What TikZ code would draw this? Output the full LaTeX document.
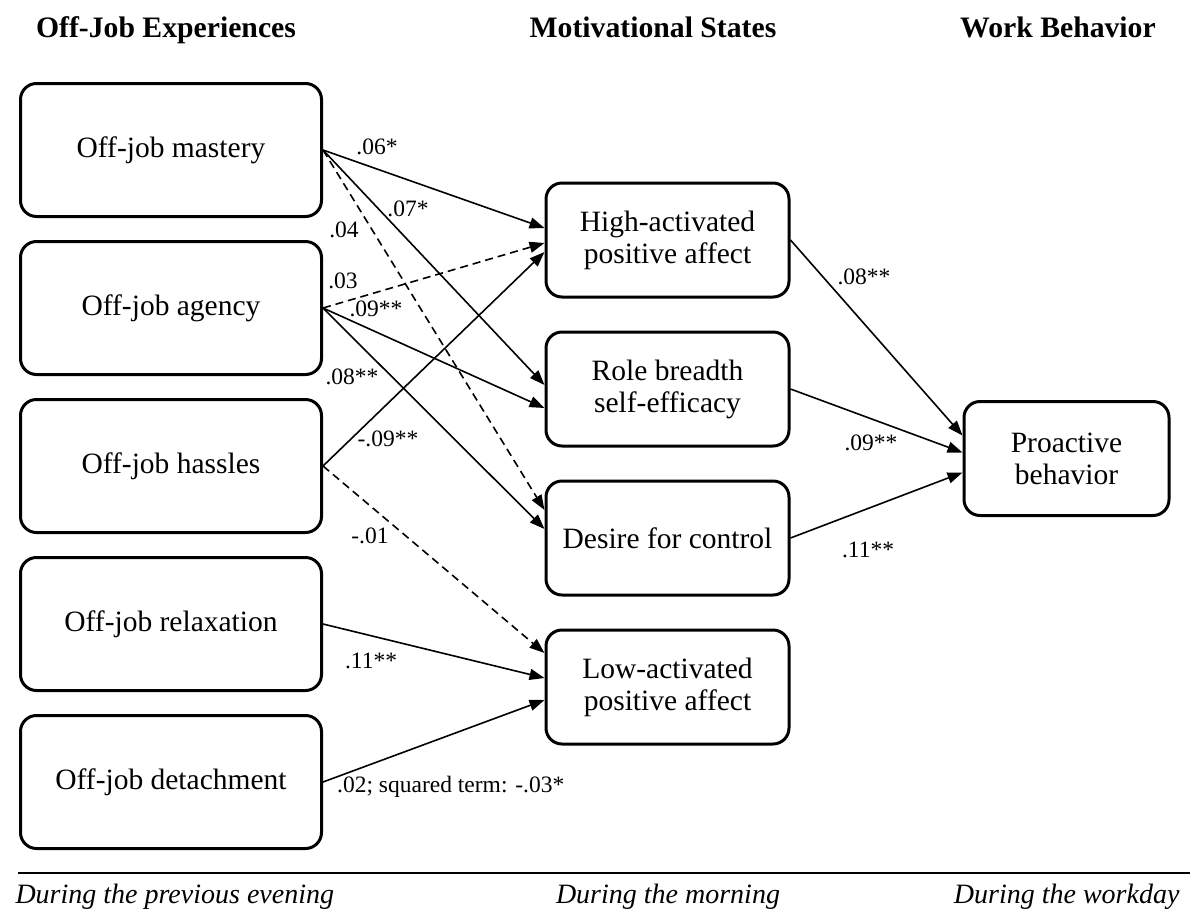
\documentclass[tikz,border=0pt]{standalone}
\usepackage{fontspec}
\setmainfont{Liberation Serif}
\usetikzlibrary{positioning}
\usetikzlibrary{calc}
\usetikzlibrary{arrows.meta}

\begin{document}
\begin{tikzpicture}[
        x=1pt, y=-1pt,
        node distance= 22pt and 0pt,
        box/.style={draw, rectangle, rounded corners=16pt, line width=3pt, minimum width=301pt, minimum height=133pt, align=center, font=\fontsize{29.5}{32}\selectfont},
        mid/.style={box, minimum width=243pt, minimum height=114pt},
        coef/.style={inner sep=0pt, font=\fontsize{23.5}{25}\selectfont},
        head/.style={anchor=base, font=\bfseries\fontsize{29.7}{31}\selectfont},
        period/.style={font=\itshape\fontsize{28}{30}\selectfont},
        arrow/.style={line width=1.6pt, -{Triangle[length=15pt,width=11pt]}},
        nsarrow/.style={arrow, dash pattern=on 8pt off 5pt},
    ]
        \useasboundingbox (0,0) rectangle (1192,922);

        \node[head] (hexp) at (166,37) {Off-Job Experiences};
        \node[head] (hmot) at (653,37) {Motivational States};
        \node[head] (hwork) at (1058,37) {Work Behavior};

        \node[box] (mastery) at (171,150) {Off-job mastery};
        \node[box, below = of mastery] (agency) {Off-job agency};
        \node[box, below = of agency] (hassles) {Off-job hassles};
        \node[box, below = of hassles] (relax) {Off-job relaxation};
        \node[box, below = of relax] (detach) {Off-job detachment};

        \node[mid] (high) at (667.5,240) {High-activated\\positive affect};
        \node[mid, below = 32pt of high] (role) {Role breadth\\self-efficacy};
        \node[mid, below = 32pt of role] (desire) {Desire for control};
        \node[mid, below = 32pt of desire] (low) {Low-activated\\positive affect};

        \node[mid, minimum width=205pt] (proactive) at (1066.5,458.5) {Proactive\\behavior};

        \draw[arrow] (mastery.east) -- ([yshift=12pt]high.west);
        \draw[arrow] (mastery.east) -- ([yshift=4pt]role.west);
        \draw[nsarrow] (mastery.east) -- ([yshift=28pt]desire.west);
        \draw[nsarrow] (agency.east) -- ([yshift=-3pt]high.west);
        \draw[arrow] (agency.east) -- ([yshift=-19pt]role.west);
        \draw[arrow] (agency.east) -- ([yshift=9pt]desire.west);
        \draw[arrow] (hassles.east) -- ([yshift=-12pt]high.west);
        \draw[nsarrow] (hassles.east) -- ([yshift=34pt]low.west);
        \draw[arrow] (relax.east) -- ([yshift=9pt]low.west);
        \draw[arrow] (detach.east) -- ([yshift=-13pt]low.west);

        \draw[arrow] (high.east) -- ([yshift=23pt]proactive.west);
        \draw[arrow] (role.east) -- ([yshift=6pt]proactive.west);
        \draw[arrow] (desire.east) -- ([yshift=-14pt]proactive.west);

        \node[coef] (mh) at (377,147) {.06*};
        \node[coef] (mr) at (408,209) {.07*};
        \node[coef] (md) at (344,230) {.04};
        \node[coef] (ah) at (343,281) {.03};
        \node[coef] (ar) at (376,309) {.09**};
        \node[coef] (ad) at (352,377) {.08**};
        \node[coef] (hh) at (388,439) {-.09**};
        \node[coef] (hl) at (370,536) {-.01};
        \node[coef] (rl) at (371,661) {.11**};
        \node[coef, anchor=west] (dl) at (337,787) {.02; squared term: -.03*};
        \node[coef] (hp) at (864,277) {.08**};
        \node[coef] (rp) at (871,443) {.09**};
        \node[coef] (dp) at (868,550) {.11**};

        \draw[line width=2pt] (18,873) -- (1190,873);
        \node[period, anchor=base west] (evening) at (12,903.5) {During the previous evening};
        \node[period, anchor=base] (morning) at (668,903.5) {During the morning};
        \node[period, anchor=base east] (workday) at (1183,903.5) {During the workday};
    \end{tikzpicture}
\end{document}
